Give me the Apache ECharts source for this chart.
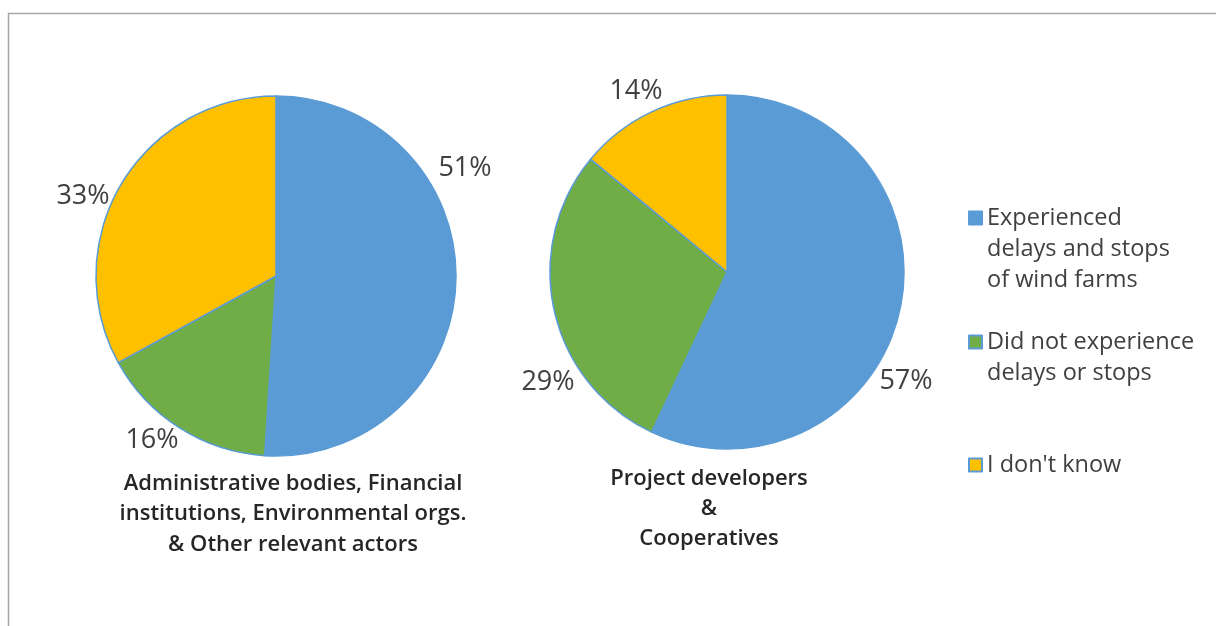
<!DOCTYPE html>
<html>
<head>
<meta charset="utf-8">
<script src="https://cdn.jsdelivr.net/npm/echarts@6/dist/echarts.min.js"></script>
<style>
  html, body { margin: 0; padding: 0; background: #ffffff; }
  #chart { width: 1216px; height: 626px; }
</style>
</head>
<body>
<div id="chart"></div>
<script>
// Survey answers, shares in percent
const categories = [
  'Experienced delays and stops of wind farms',
  'Did not experience delays or stops',
  "I don't know"
];
const legendLabels = [
  'Experienced\ndelays and stops\nof wind farms',
  'Did not experience\ndelays or stops',
  "I don't know"
];
const groupTitles = [
  'Administrative bodies, Financial\ninstitutions, Environmental orgs.\n& Other relevant actors',
  'Project developers\n&\nCooperatives'
];
const adminValues = [51, 16, 33];
const developerValues = [57, 29, 14];

const colors = ['#5b9bd5', '#70ad47', '#ffc000'];
const FONT = '"Open Sans", Roboto, sans-serif';

// label centres for each slice, per pie
const labelSpots = [
  [[465, 168], [152, 440], [83, 196]],
  [[906, 381], [548, 382], [636, 91]]
];

function pieData(values) {
  return values.map((v, i) => ({ name: categories[i], value: v }));
}

function pieSeries(values, center, radius) {
  return {
    type: 'pie',
    center: center,
    radius: radius,
    startAngle: 90,
    clockwise: true,
    animation: false,
    silent: true,
    data: pieData(values),
    itemStyle: { borderColor: '#5b9bd5', borderWidth: 1.5 },
    label: {
      show: true,
      position: 'outside',
      formatter: '{c}%',
      fontFamily: FONT,
      fontSize: 27,
      color: '#404040'
    },
    labelLine: { show: false },
    labelLayout: function (p) {
      const spot = labelSpots[p.seriesIndex][p.dataIndex];
      return { x: spot[0], y: spot[1], align: 'center', verticalAlign: 'middle' };
    }
  };
}

// one legend block per answer; leading blank lines keep the icon level
// with the first text line (the legend centres text on its icon)
const legendTops = [140.5, 295.5, 449.5];
const legends = categories.map((c, i) => {
  const lines = legendLabels[i].split('\n').length;
  const label = '\n'.repeat(lines - 1) + legendLabels[i];
  return {
    data: [c],
    orient: 'vertical',
    left: 968,
    top: legendTops[i],
    padding: 0,
    itemWidth: 13,
    itemHeight: 13,
    icon: 'rect',
    selectedMode: false,
    formatter: () => label,
    textStyle: {
      fontFamily: FONT,
      fontSize: 23.5,
      lineHeight: 31,
      color: '#404040'
    }
  };
});

const chart = echarts.init(document.getElementById('chart'), null, { renderer: 'canvas' });
chart.setOption({
  backgroundColor: '#ffffff',
  color: colors,
  animation: false,
  legend: legends,
  graphic: [
    {
      type: 'rect',
      shape: { x: 8.5, y: 13.5, width: 1400, height: 800 },
      style: { fill: 'none', stroke: '#a6a6a6', lineWidth: 1.5 },
      silent: true
    },
    {
      type: 'text',
      x: 293, y: 468,
      style: {
        text: groupTitles[0], textAlign: 'center', textVerticalAlign: 'top',
        fontFamily: FONT, fontSize: 22, fontWeight: 600, lineHeight: 30.5, fill: '#262626'
      }
    },
    {
      type: 'text',
      x: 709, y: 464,
      style: {
        text: groupTitles[1], textAlign: 'center', textVerticalAlign: 'top',
        fontFamily: FONT, fontSize: 22, fontWeight: 600, lineHeight: 30, fill: '#262626'
      }
    }
  ],
  series: [
    pieSeries(adminValues, [276, 276], 180),
    pieSeries(developerValues, [727, 272], 177)
  ]
});
</script>
</body>
</html>
